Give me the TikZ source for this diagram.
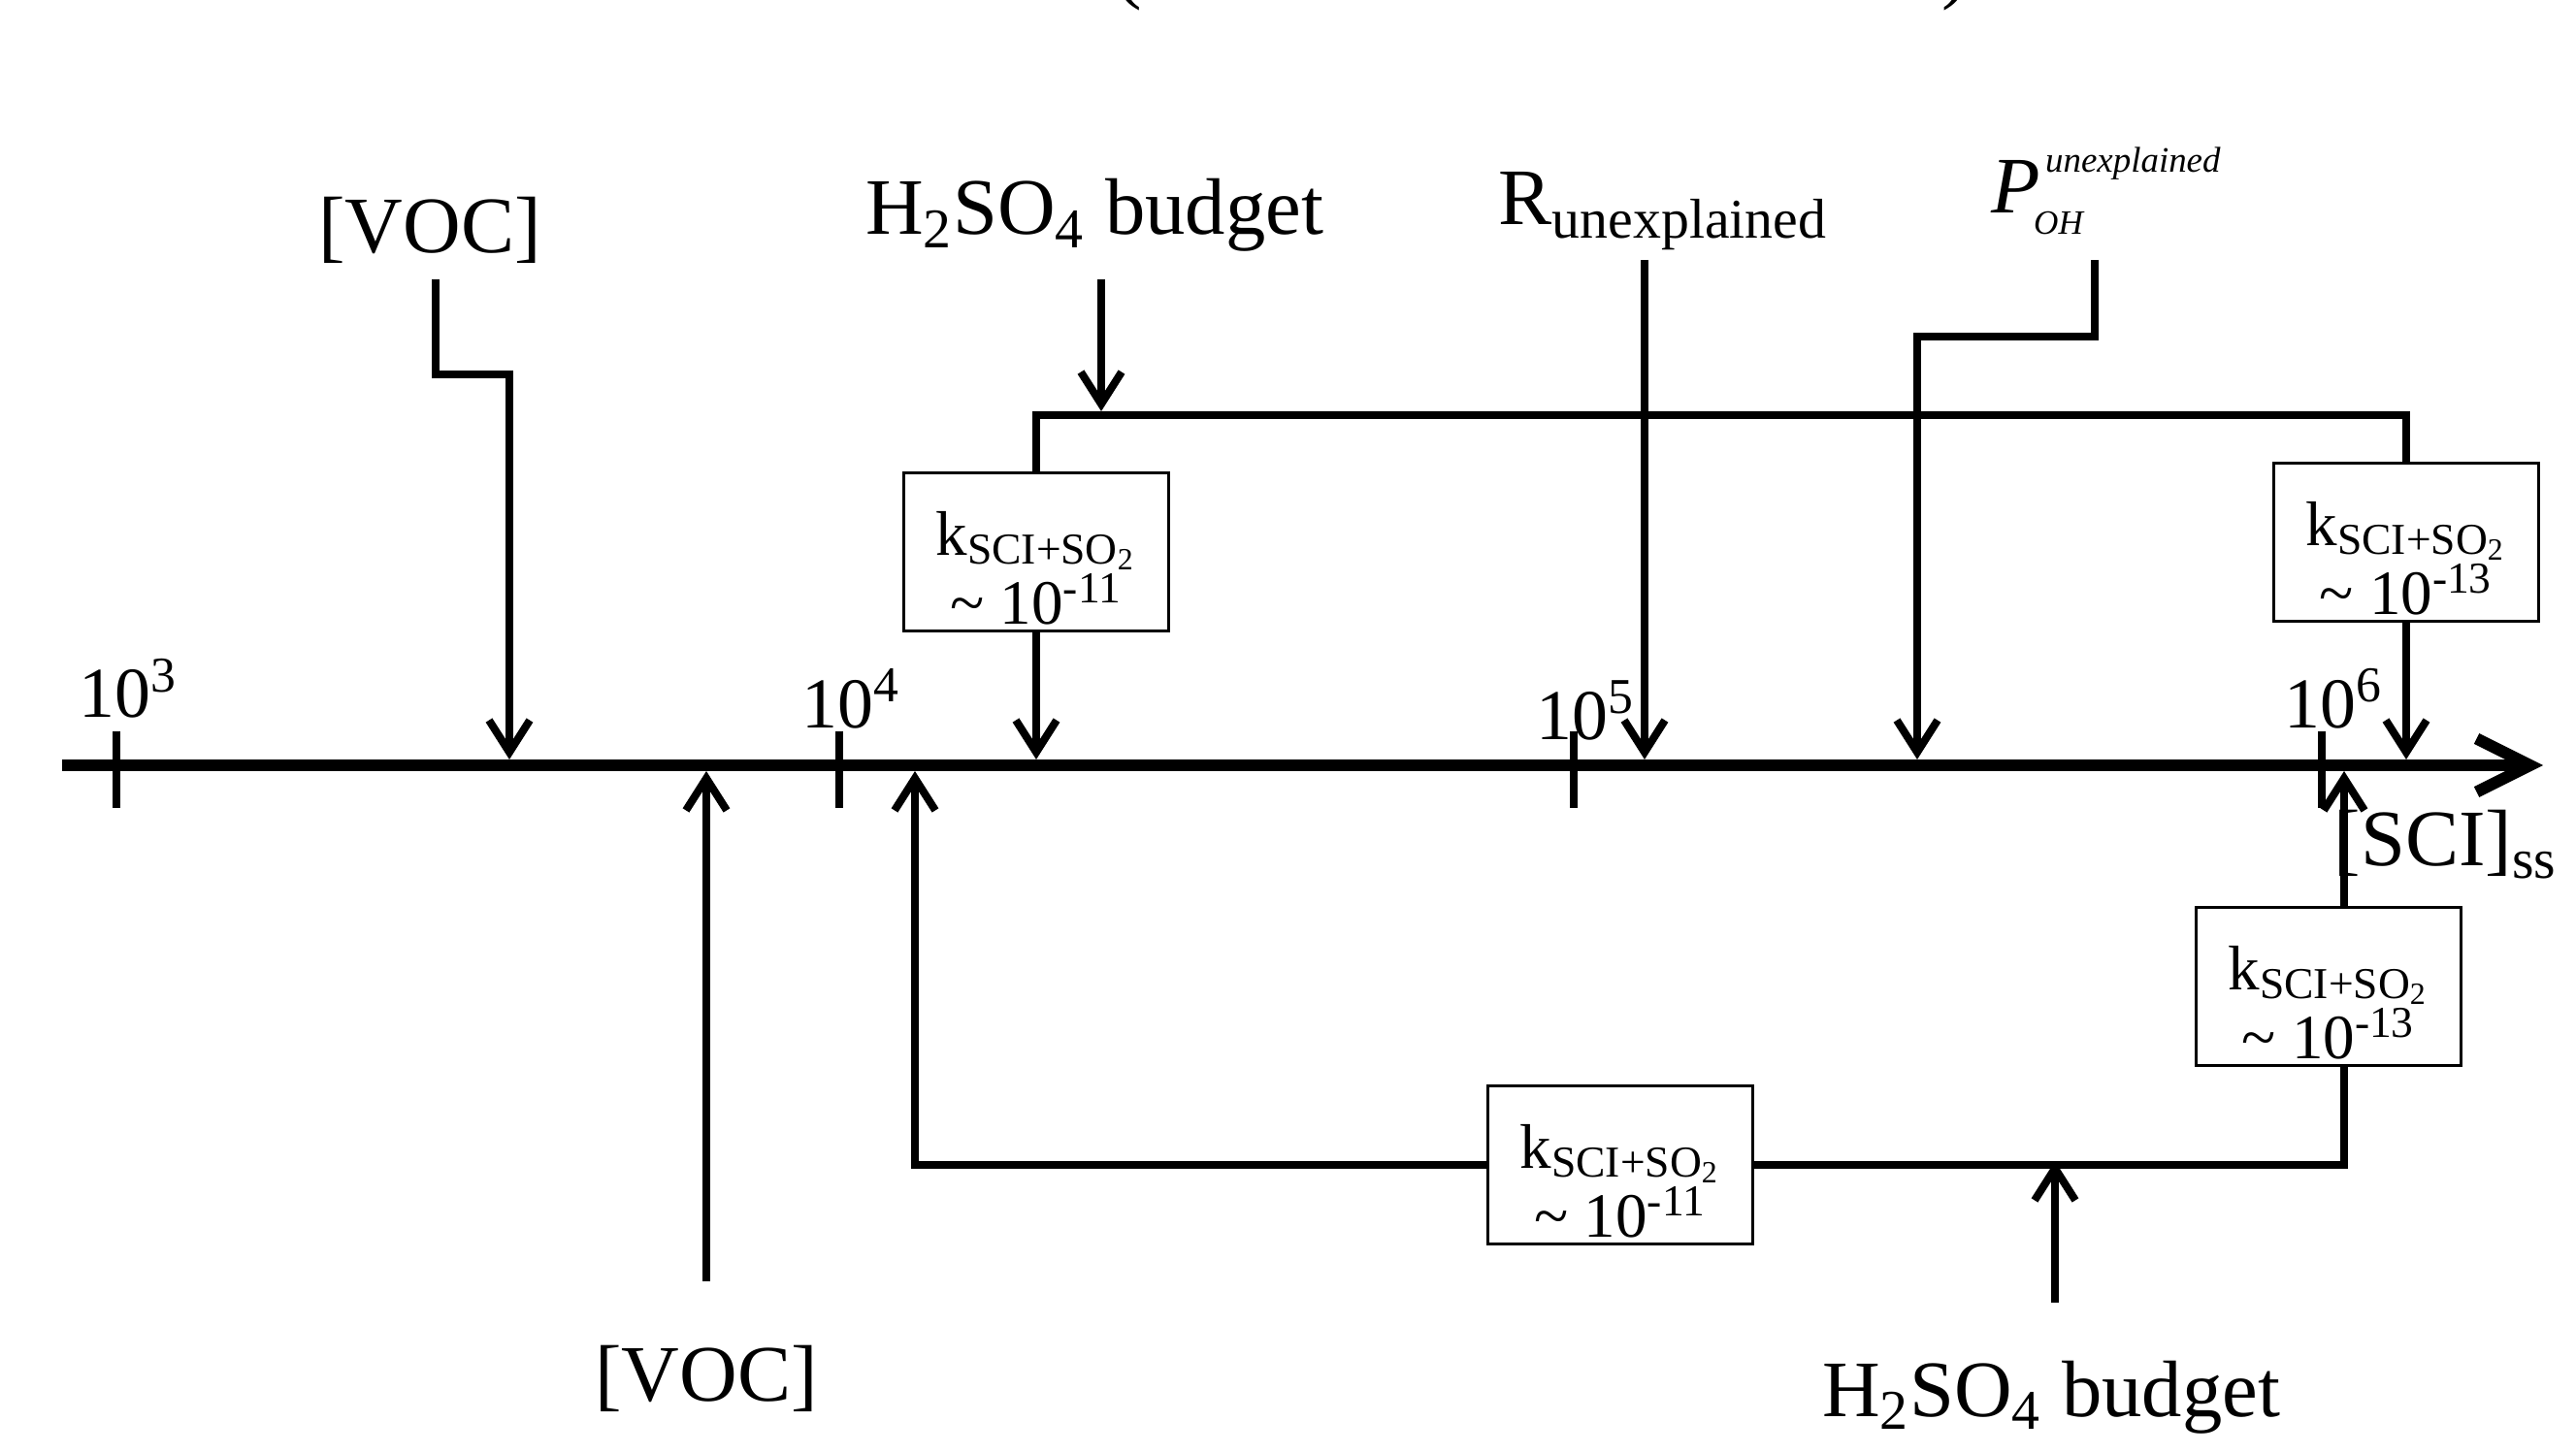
\documentclass[tikz,border=0pt]{standalone}
\usepackage{fontspec}
\setmainfont{Liberation Serif}
\usetikzlibrary{arrows.meta, positioning, calc}

\begin{document}
\begin{tikzpicture}[
    axis/.style={line width=0.12cm, -{Straight Barb[length=0.55cm, width=0.55cm]}},
    conn/.style={line width=0.08cm},
    arr/.style={conn, -{Straight Barb[length=0.33cm, width=0.42cm]}},
    tickmark/.style={line width=0.08cm},
    lbl/.style={inner sep=0pt, font=\fontsize{23.5}{28}\selectfont},
    tlbl/.style={inner sep=0pt, anchor=base west, font=\fontsize{21}{25}\selectfont},
    kbox/.style={draw, line width=0.03cm, fill=white, align=center, inner sep=0pt,
      minimum width=2.73cm, text height=1.56cm, text depth=0.07cm,
      font=\fontsize{18.5}{18.6}\selectfont}
]
\useasboundingbox (0,0) rectangle (26.55,14.97);
% cut-off title
\node[lbl, anchor=base] (parL) at (11.63,15.03) {(};
\node[lbl, anchor=base] (parR) at (20.15,15.03) {)};
% axis with decades
\coordinate (axL) at (0.64,7.08);
\coordinate (axR) at (26.21,7.08);
\coordinate (axT) at (0,7.14);
\coordinate (axB) at (0,7.02);
\draw[axis] (axL) -- (axR);
\foreach \x/\e/\lx/\ly in {1.20/3/0.81/7.57, 8.65/4/8.26/7.47,
                           16.22/5/15.83/7.35, 23.93/6/23.54/7.47} {
  \draw[tickmark] (\x,7.435) -- (\x,6.64);
  \node[tlbl] (t\e) at (\lx,\ly) {10\textsuperscript{\e}};
}
\node[lbl, anchor=base west] (sci) at (24.05,6.05) {[SCI]\textsubscript{ss}};
% labels above the axis
\node[lbl, anchor=base] (vocT) at (4.43,12.36) {[VOC]};
\node[lbl, anchor=base] (hsoT) at (11.28,12.55) {H\textsubscript{2}SO\textsubscript{4} budget};
\node[lbl, anchor=base west] (runx) at (15.44,12.65) {R\textsubscript{unexplained}};
\node[lbl, anchor=base west] (poh) at (20.52,12.77)
  {\textit{P}\hspace{0.05cm}\makebox[0pt][l]{\raisebox{0.42cm}{\fontsize{10.5}{12}\selectfont\itshape unexplained}}%
   \hspace{-0.12cm}\raisebox{-0.22cm}{\fontsize{10}{12}\selectfont\itshape OH}};
% labels below the axis
\node[lbl, anchor=base] (vocB) at (7.28,0.53) {[VOC]};
\node[lbl, anchor=base] (hsoB) at (21.14,0.37) {H\textsubscript{2}SO\textsubscript{4} budget};
% rate constant boxes
\node[kbox] (k1) at (10.68,9.28) {k\textsubscript{SCI+SO\textsubscript{2}}\\\textasciitilde\ 10\textsuperscript{-11}};
\node[kbox] (k2) at (24.80,9.38) {k\textsubscript{SCI+SO\textsubscript{2}}\\\textasciitilde\ 10\textsuperscript{-13}};
\node[kbox] (k3) at (16.70,2.96) {k\textsubscript{SCI+SO\textsubscript{2}}\\\textasciitilde\ 10\textsuperscript{-11}};
\node[kbox] (k4) at (24.00,4.80) {k\textsubscript{SCI+SO\textsubscript{2}}\\\textasciitilde\ 10\textsuperscript{-13}};
% upper connectors
\coordinate (vocTa) at (4.49,12.09);
\coordinate (vocTb) at (5.25,11.11);
\draw[arr] (vocTa) |- (vocTb) -- (vocTb |- axT);
\coordinate (hsoTa) at (11.35,12.09);
\coordinate (brkL) at (10.68,10.69);
\coordinate (brkR) at (24.80,10.69);
\draw[arr] (hsoTa) -- ($(hsoTa |- brkL)+(0,0.04)$);
\draw[conn] (k1.north) -- (brkL) -- (brkR) -- (k2.north);
\draw[arr] (k1.south) -- (k1.south |- axT);
\draw[arr] (k2.south) -- (k2.south |- axT);
\coordinate (runxA) at (16.95,12.29);
\draw[arr] (runxA) -- (runxA |- axT);
\coordinate (pohA) at (21.59,12.29);
\coordinate (pohB) at (19.76,11.50);
\draw[arr] (pohA) |- (pohB) -- (pohB |- axT);
% lower connectors
\coordinate (vocBa) at (7.28,1.76);
\draw[arr] (vocBa) -- (vocBa |- axB);
\coordinate (lpL) at (9.43,2.96);
\coordinate (lpR) at (24.16,2.96);
\draw[arr] (k3.west) -- (lpL) -- (lpL |- axB);
\draw[conn] (k3.east) -- (lpR) -- (k4.south -| lpR);
\draw[arr] (k4.north -| lpR) -- (lpR |- axB);
\coordinate (hsoBa) at (21.18,1.54);
\draw[arr] (hsoBa) -- ($(hsoBa |- lpR)+(0,0.04)$);
\end{tikzpicture}
\end{document}
